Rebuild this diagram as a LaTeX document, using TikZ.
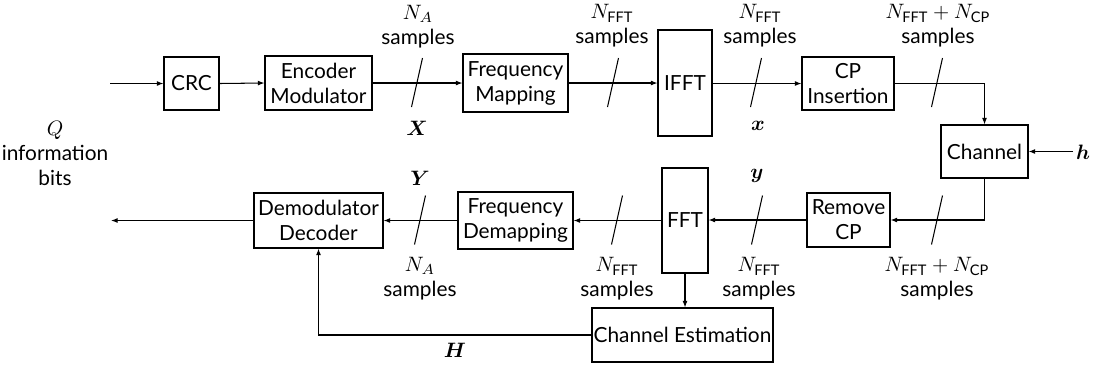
\documentclass[tikz,border=0pt]{standalone}
\usepackage{amsmath}
\usepackage{fontspec}
\setmainfont{Lato}
\usetikzlibrary{arrows.meta,calc}
\begin{document}
\begin{tikzpicture}[x=0.48pt,y=-0.48pt,
  line width=0.5pt,
  arr/.style={-{Latex[length=3.2pt,width=2.4pt]}},
  blk/.style={draw,align=center,inner sep=0pt,font=\fontsize{10}{12}\selectfont},
  lbl/.style={align=center,inner sep=0pt,font=\fontsize{10}{12}\selectfont},
  slash/.style={shorten >=0pt}]
\useasboundingbox (0,0) rectangle (1096,369);
% blocks
\node[blk,minimum width=55*0.48pt,minimum height=53*0.48pt] (crc) at (191.5,83.5) {CRC};
\node[blk,minimum width=107*0.48pt,minimum height=54*0.48pt] (enc) at (318.5,83) {Encoder\\Modulator};
\node[blk,minimum width=105*0.48pt,minimum height=58*0.48pt] (fmap) at (515.5,83) {Frequency\\Mapping};
\node[blk,minimum width=54*0.48pt,minimum height=106*0.48pt] (ifft) at (685,83) {IFFT};
\node[blk,minimum width=92*0.48pt,minimum height=53*0.48pt] (cpins) at (848,83.5) {CP\\Insertion};
\node[blk,minimum width=87*0.48pt,minimum height=53*0.48pt] (chan) at (984.5,151.5) {Channel};
\node[blk,minimum width=83*0.48pt,minimum height=54*0.48pt] (remcp) at (848.5,220) {Remove\\CP};
\node[blk,minimum width=46*0.48pt,minimum height=105*0.48pt] (fft) at (685,220.5) {FFT};
\node[blk,minimum width=115*0.48pt,minimum height=57*0.48pt] (fdemap) at (515.5,220.5) {Frequency\\Demapping};
\node[blk,minimum width=129*0.48pt,minimum height=55*0.48pt] (demod) at (318.5,220.5) {Demodulator\\Decoder};
\node[blk,minimum width=181*0.48pt,minimum height=54*0.48pt] (chest) at (682.5,335) {Channel Estimation};
% free ends
\coordinate (in) at (110,83.5);
\coordinate (out) at (111,220.5);
\coordinate (hin) at (1073,151.5);
% connectors
\draw[arr] (in) -- (crc.west);
\draw[arr] (crc.east) -- (enc.west);
\draw[arr] (enc.east) -- (fmap.west);
\draw[arr] (fmap.east) -- (ifft.west);
\draw[arr] (ifft.east |- cpins.west) -- (cpins.west);
\draw[arr] (cpins.east) -| (chan.north);
\draw[arr] (hin) -- (chan.east);
\draw[arr] (chan.south) |- (remcp.east);
\draw[arr] (remcp.west) -- (fft.east |- remcp.west);
\draw[arr] (fft.west) -- (fdemap.east);
\draw[arr] (fdemap.west) -- (demod.east);
\draw[arr] (demod.west) -- (out);
\draw[arr] (fft.south) -- (fft.south |- chest.north);
\draw[arr] (chest.west) -| (demod.south);
% slashes
\foreach \n/\x/\y in {s1/417/83, s2/613/83, s3/756/83, s4/937/83, s5/937/220.5, s6/757/220.5, s7/617/220.5, s8/420/220.5}{
  \coordinate (\n) at (\x,\y);
  \draw ($(\n)+(5.5,-25)$) -- ($(\n)+(-5.5,24)$);
}
% labels
\node[lbl] (lna1) at (418,27) {$N_A$\\samples};
\node[lbl] (lnf1) at (612,26) {$N_{\text{FFT}}$\\samples};
\node[lbl] (lnf2) at (760,26) {$N_{\text{FFT}}$\\samples};
\node[lbl] (lncp1) at (938,26) {$N_{\text{FFT}}+N_{\text{CP}}$\\samples};
\node[lbl] (lX) at (417,128) {$\boldsymbol{X}$};
\node[lbl] (lx) at (758,126) {$\boldsymbol{x}$};
\node[lbl] (lY) at (420,178) {$\boldsymbol{Y}$};
\node[lbl] (ly) at (757,176) {$\boldsymbol{y}$};
\node[lbl] (lna2) at (420,279) {$N_A$\\samples};
\node[lbl] (lnf3) at (617,279) {$N_{\text{FFT}}$\\samples};
\node[lbl] (lnf4) at (759,279) {$N_{\text{FFT}}$\\samples};
\node[lbl] (lncp2) at (937,279) {$N_{\text{FFT}}+N_{\text{CP}}$\\samples};
\node[lbl] (lH) at (455,350) {$\boldsymbol{H}$};
\node[lbl] (lh) at (1083,152) {$\boldsymbol{h}$};
\node[lbl] (lQ) at (55,153) {$Q$\\information\\bits};
\end{tikzpicture}
\end{document}
